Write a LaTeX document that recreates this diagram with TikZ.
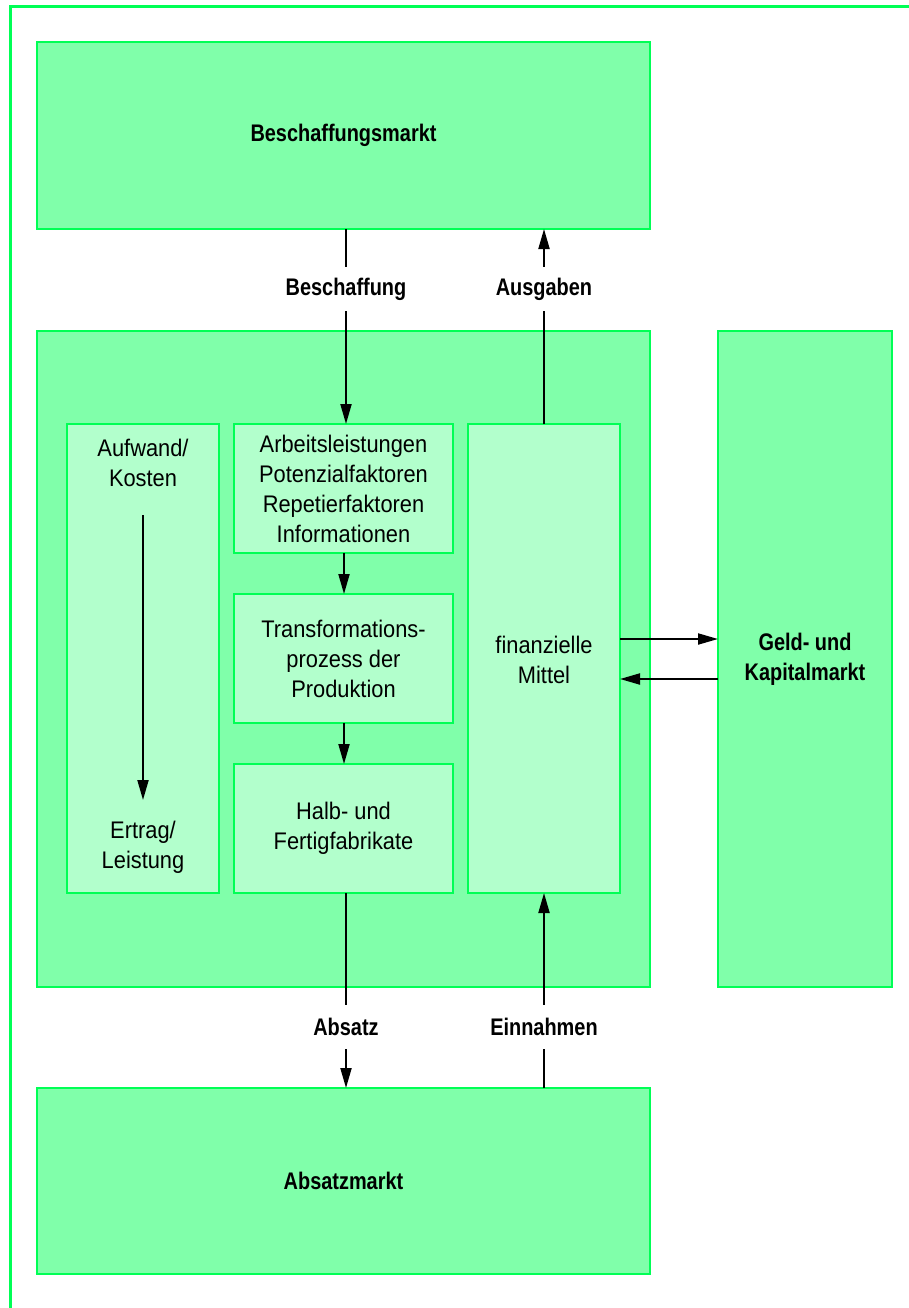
\documentclass[tikz,border=0pt]{standalone}
\usepackage{fontspec}
\setmainfont{Liberation Sans}
\newfontfamily\regf{Liberation Sans}[FakeStretch=0.91]
\newfontfamily\boldf{Liberation Sans}[FakeStretch=0.83]
\usetikzlibrary{arrows.meta}
\definecolor{bordergreen}{RGB}{0,255,85}
\definecolor{outerfill}{RGB}{128,255,170}
\definecolor{innerfill}{RGB}{178,255,204}
\begin{document}
\begin{tikzpicture}[x=1pt,y=-1pt,
  outerbox/.style={draw=bordergreen,fill=outerfill,line width=2pt},
  innerbox/.style={draw=bordergreen,fill=innerfill,line width=2pt},
  regtext/.style={font=\regf\fontsize{24}{30}\selectfont,align=center,text=black},
  boldtext/.style={font=\boldf\bfseries\fontsize{24}{30}\selectfont,align=center,text=black},
  lbl/.style={boldtext,minimum height=44pt,inner sep=0pt},
  conn/.style={line width=2pt},
  arr/.style={line width=2pt,-{Triangle[length=20pt,width=11pt]}}]
\useasboundingbox (0,0) rectangle (909,1308);
% outer frame
\draw[bordergreen,line width=3pt] (10,1308) -- (10,7) -- (909,7);
% big boxes
\draw[outerbox] (37,42) rectangle (650,229);
\node[boldtext] (besch) at (343.5,135.5) {Beschaffungsmarkt};
\coordinate (beschS) at (346,229);
\coordinate (beschS2) at (544,229);
\draw[outerbox] (37,331) rectangle (650,987);
\draw[outerbox] (718,331) rectangle (892,987);
\node[boldtext] (geld) at (805,659) {Geld- und\\Kapitalmarkt};
\draw[outerbox] (37,1088) rectangle (650,1274);
\node[boldtext] (absm) at (343.5,1181) {Absatzmarkt};
\coordinate (absN) at (346,1088);
\coordinate (absN2) at (544,1088);
% inner boxes
\draw[innerbox] (67,424) rectangle (219,893);
\node[regtext] (kosten) at (143,463) {Aufwand/\\Kosten};
\node[regtext] (ertrag) at (143,847) {Ertrag/\\Leistung};
\coordinate (k1) at (143,515);
\coordinate (k2) at (143,800);
\draw[innerbox] (234,424) rectangle (453,553);
\node[regtext] (arb) at (343.5,488.5) {Arbeitsleistungen\\Potenzialfaktoren\\Repetierfaktoren\\Informationen};
\draw[innerbox] (234,594) rectangle (453,723);
\node[regtext] (trans) at (343.5,658.5) {Transformations-\\prozess der\\Produktion};
\draw[innerbox] (234,764) rectangle (453,893);
\node[regtext] (halb) at (343.5,828.5) {Halb- und\\Fertigfabrikate};
\draw[innerbox] (468,424) rectangle (620,893);
\node[regtext] (fin) at (544,660) {finanzielle\\Mittel};
% connection coordinates
\coordinate (arbN) at (346,424);
\coordinate (arbS) at (344,553);
\coordinate (transN) at (344,594);
\coordinate (transS) at (344,723);
\coordinate (halbN) at (344,764);
\coordinate (halbS) at (346,893);
\coordinate (finN) at (544,424);
\coordinate (finS) at (544,893);
\coordinate (finE1) at (620,639);
\coordinate (finE2) at (620,679);
\coordinate (geldW1) at (718,639);
\coordinate (geldW2) at (718,679);
% labels
\node[lbl] (lbesch) at (346,289) {Beschaffung};
\node[lbl] (lausg) at (544,289) {Ausgaben};
\node[lbl] (labs) at (346,1027) {Absatz};
\node[lbl] (lein) at (544,1027) {Einnahmen};
% connectors
\draw[conn] (beschS) -- (lbesch.north);
\draw[arr] (lbesch.south) -- (arbN);
\draw[conn] (finN) -- (lausg.south);
\draw[arr] (lausg.north) -- (beschS2);
\draw[arr] (arbS) -- (transN);
\draw[arr] (transS) -- (halbN);
\draw[arr] (k1) -- (k2);
\draw[conn] (halbS) -- (labs.north);
\draw[arr] (labs.south) -- (absN);
\draw[conn] (absN2) -- (lein.south);
\draw[arr] (lein.north) -- (finS);
\draw[arr] (finE1) -- (geldW1);
\draw[arr] (geldW2) -- (finE2);
\end{tikzpicture}
\end{document}
